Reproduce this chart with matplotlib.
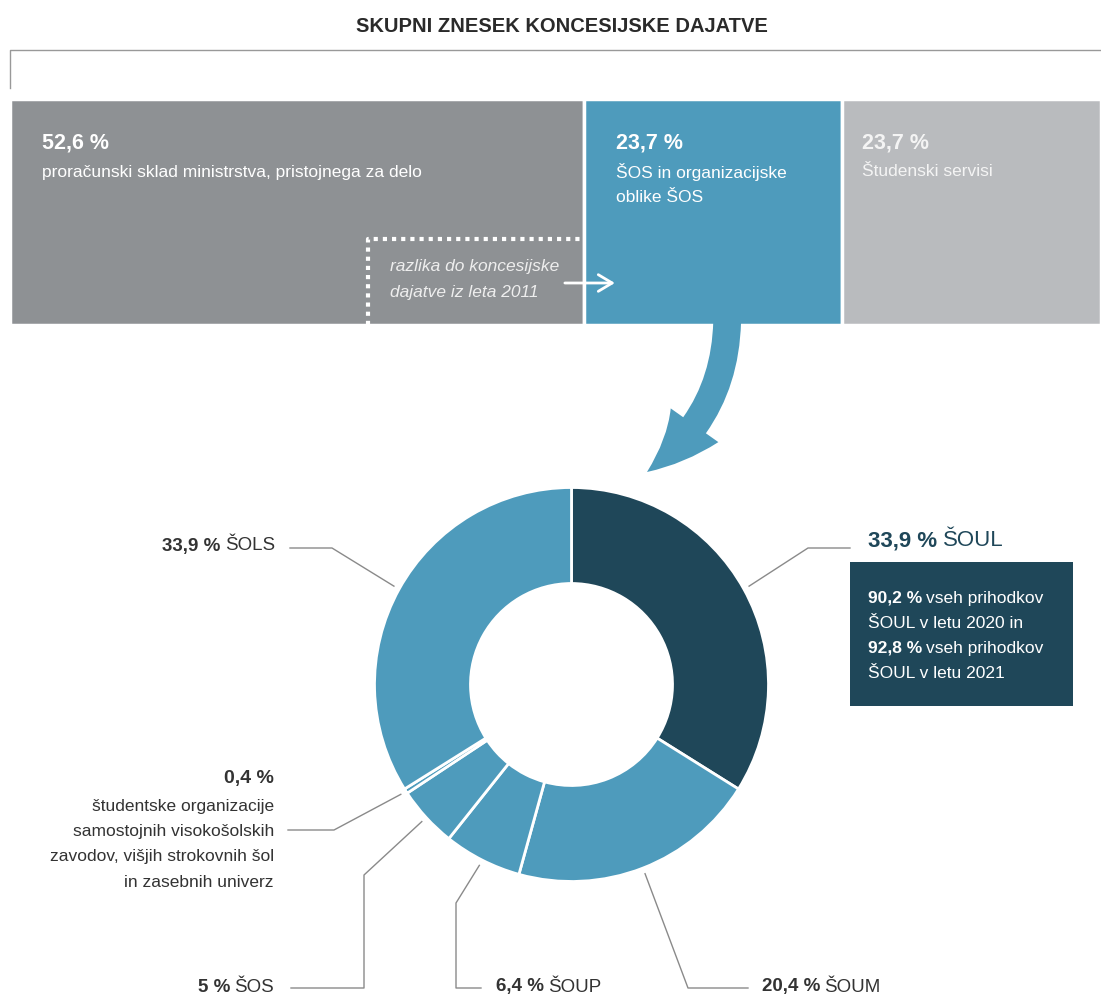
import numpy as np
import matplotlib
matplotlib.use('Agg')
import matplotlib.pyplot as plt
from matplotlib.patches import FancyArrowPatch, Rectangle

W, H = 1101, 999

# top bar: split of the total concession levy
bar_values = [52.6, 23.7, 23.7]
bar_pct = ['52,6 %', '23,7 %', '23,7 %']
bar_labels = [['proračunski sklad ministrstva, pristojnega za delo'],
              ['ŠOS in organizacijske', 'oblike ŠOS'],
              ['Študenski servisi']]
diff_note = ['razlika do koncesijske', 'dajatve iz leta 2011']

# donut: split of the ŠOS share (clockwise from 12 o'clock)
pie_values = [33.9, 20.4, 6.4, 5.0, 0.4, 33.9]
pie_pct = ['33,9 %', '20,4 %', '6,4 %', '5 %', '0,4 %', '33,9 %']
pie_names = ['ŠOUL', 'ŠOUM', 'ŠOUP', 'ŠOS',
             ['študentske organizacije', 'samostojnih visokošolskih',
              'zavodov, višjih strokovnih šol', 'in zasebnih univerz'],
             'ŠOLS']
soul_income = ['90,2 %', '92,8 %']
soul_years = ['2020', '2021']

GREY = '#8e9194'
BLUE = '#4e9bbc'
LIGHT = '#b9bbbe'
DARK = '#1f4759'
TXT = '#333333'
LINE = '#8a8a8a'
FONT = ['Liberation Sans', 'DejaVu Sans']
bar_colors = [GREY, BLUE, LIGHT]
pie_colors = [DARK, BLUE, BLUE, BLUE, BLUE, BLUE]


def Y(p):
    # pixel row (from top) -> axes y
    return H - p


fig = plt.figure(figsize=(W / 100, H / 100), dpi=100)

# bar axes in percent units
ax_bar = fig.add_axes([10 / W, Y(325) / H, (W - 10) / W, 226 / H])
lefts = np.concatenate([[0], np.cumsum(bar_values)[:-1]])
ax_bar.barh(0, bar_values, left=lefts, height=1, color=bar_colors,
            edgecolor='white', linewidth=2.5)
ax_bar.set_xlim(0, 100)
ax_bar.set_ylim(-0.5, 0.5)
ax_bar.axis('off')

# overlay axes in pixel units
ax = fig.add_axes([0, 0, 1, 1])
ax.patch.set_visible(False)
fig.canvas.draw()
edges = [ax_bar.transData.transform((x, 0))[0] for x in lefts]
ends = [ax_bar.transData.transform((x, 0))[0] for x in lefts + np.array(bar_values)]

ax.text(562, Y(27), 'SKUPNI ZNESEK KONCESIJSKE DAJATVE', ha='center', va='center',
        fontsize=14.5, fontweight='bold', color='#2a2a2a', family=FONT)
ax.plot([10, 10, W], [Y(88), Y(50), Y(50)], color='#999999', lw=1)

for i in range(3):
    x0 = edges[i] + (32 if i < 2 else 20)
    tc = 'white' if i < 2 else '#f4f4f4'
    ax.text(x0, Y(143), bar_pct[i], ha='left', va='center', fontsize=15.5,
            fontweight='bold', color=tc, family=FONT)
    for j, line in enumerate(bar_labels[i]):
        ax.text(x0, Y(172 + 25 * j), line, ha='left', va='center', fontsize=12.5,
                color=tc, family=FONT)

# dotted box + note + small arrow
bx = edges[1]
ax.plot([bx - 216, bx - 216, bx - 2], [Y(325), Y(239), Y(239)], color='white',
        lw=3, linestyle=(0, (1, 1.2)), solid_capstyle='butt')
for j, line in enumerate(diff_note):
    ax.text(bx - 194, Y(267 + 25 * j), line, ha='left', va='center', fontsize=12.5,
            style='italic', color='#eeeeee', family=FONT)
ax.annotate('', xy=(bx + 31, Y(283)), xytext=(bx - 19, Y(283)),
            arrowprops=dict(arrowstyle='->,head_length=1.0,head_width=0.6',
                            color='white', lw=2, mutation_scale=10,
                            shrinkA=0, shrinkB=0))

# big curved arrow from the ŠOS bar to the donut
bcx = (edges[1] + ends[1]) / 2
big = FancyArrowPatch(posA=(bcx + 14, Y(322)), posB=(647, Y(472)),
                      connectionstyle='arc3,rad=-0.25',
                      arrowstyle='simple,head_length=4.8,head_width=4.2,tail_width=2.0',
                      mutation_scale=10, color=BLUE, lw=0, shrinkA=0, shrinkB=0)
ax.add_patch(big)

# donut
cx, cy, R = 571.5, Y(684.5), 197
ax.pie(pie_values, colors=pie_colors, startangle=90, counterclock=False,
       center=(cx, cy), radius=R,
       wedgeprops=dict(width=96, edgecolor='white', linewidth=2))
ax.set_xlim(0, W)
ax.set_ylim(0, H)
ax.set_aspect('auto')
ax.axis('off')

cum = np.concatenate([[0], np.cumsum(pie_values)[:-1]])
mids = np.deg2rad(90 - 3.6 * (cum + np.array(pie_values) / 2))
starts = [(cx + (R + 6) * np.cos(a), cy + (R + 6) * np.sin(a)) for a in mids]

# leader line waypoints (pixel rows from top)
paths = [
    [(808, 548), (850, 548)],
    [(688, 988), (748, 988)],
    [(456, 903), (456, 988), (481, 988)],
    [(364, 875), (364, 988), (291, 988)],
    [(334, 830), (288, 830)],
    [(332, 548), (290, 548)],
]
for s, p in zip(starts, paths):
    xs = [s[0]] + [q[0] for q in p]
    ys = [s[1]] + [Y(q[1]) for q in p]
    ax.plot(xs, ys, color=LINE, lw=1)


def pair(x, y, bold, reg, ha, size, color, gap=4):
    # bold percentage followed by regular name on one baseline
    if ha == 'left':
        t = ax.text(x, y, bold, ha='left', va='center', fontsize=size,
                    fontweight='bold', color=color, family=FONT)
        ax.annotate(reg, xy=(1, 0), xycoords=t, xytext=(gap, 0),
                    textcoords='offset pixels', ha='left', va='bottom',
                    fontsize=size, color=color, family=FONT)
    else:
        t = ax.text(x, y, reg, ha='right', va='center', fontsize=size,
                    color=color, family=FONT)
        ax.annotate(bold, xy=(0, 0), xycoords=t, xytext=(-gap, 0),
                    textcoords='offset pixels', ha='right', va='bottom',
                    fontsize=size, fontweight='bold', color=color, family=FONT)


pair(868, Y(541), pie_pct[0], pie_names[0], 'left', 16, DARK, gap=6)
pair(762, Y(987), pie_pct[1], pie_names[1], 'left', 13.5, TXT)
pair(496, Y(987), pie_pct[2], pie_names[2], 'left', 13.5, TXT)
pair(274, Y(987), pie_pct[3], pie_names[3], 'right', 13.5, TXT)
pair(275, Y(546), pie_pct[5], pie_names[5], 'right', 13.5, TXT)

ax.text(274, Y(779), pie_pct[4], ha='right', va='center', fontsize=14,
        fontweight='bold', color=TXT, family=FONT)
for j, line in enumerate(pie_names[4]):
    ax.text(274, Y(806 + 25.5 * j), line, ha='right', va='center', fontsize=12.5,
            color=TXT, family=FONT)

# dark box on ŠOUL
ax.add_patch(Rectangle((850, Y(706)), 223, 144, color=DARK, lw=0))
for k in range(2):
    yb = Y(598 + 50 * k)
    pair(868, yb, soul_income[k], 'vseh prihodkov', 'left', 12.5, 'white')
    ax.text(868, yb - 25, 'ŠOUL v letu %s%s' % (soul_years[k], ' in' if k == 0 else ''),
            ha='left', va='center', fontsize=12.5, color='white', family=FONT)

fig.savefig('out.png', dpi=100)
